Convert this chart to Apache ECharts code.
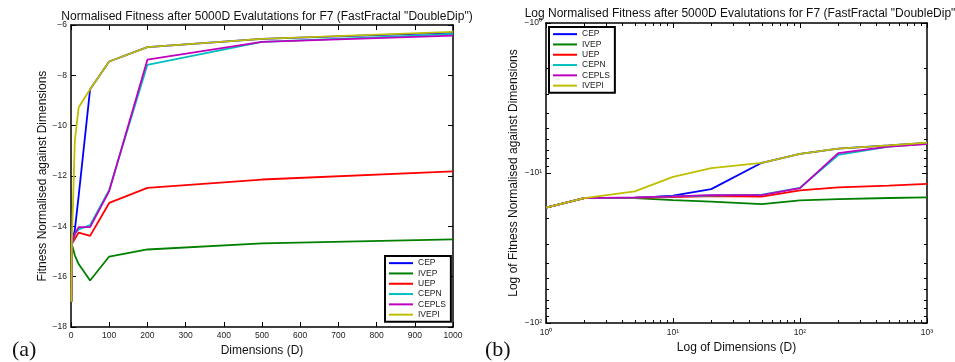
<!DOCTYPE html>
<html>
<head>
<meta charset="utf-8">
<script src="https://cdn.jsdelivr.net/npm/echarts@6/dist/echarts.min.js"></script>
<style>
  html, body { margin: 0; padding: 0; background: #fff; }
  #chartmain { width: 955px; height: 362px; }
</style>
</head>
<body>
<div id="chartmain"></div>
<script>
// dimensions tested
var dims = [1, 2, 5, 10, 20, 50, 100, 200, 500, 1000];
// normalised fitness per algorithm
var cep   = [-17, -14.7, -14.7, -14.15, -12.8, -8.55, -7.45, -6.88, -6.55, -6.3];
var ivep  = [-17, -14.7, -14.7, -15.15, -15.5, -16.15, -15.2, -14.92, -14.68, -14.52];
var uep   = [-17, -14.7, -14.65, -14.5, -14.25, -14.38, -13.07, -12.47, -12.14, -11.82];
var cepn  = [-17, -14.7, -14.6, -14.3, -14.12, -13.95, -12.55, -7.58, -6.67, -6.36];
var cepls = [-17, -14.7, -14.55, -14.3, -14.03, -14.03, -12.6, -7.38, -6.67, -6.42];
var ivepi = [-17, -14.7, -13.25, -10.6, -9.28, -8.55, -7.45, -6.88, -6.55, -6.27];

var names = ['CEP', 'IVEP', 'UEP', 'CEPN', 'CEPLS', 'IVEPI'];
var values = [cep, ivep, uep, cepn, cepls, ivepi];
var colors = ['#0000ff', '#008000', '#ff0000', '#00bfbf', '#bf00bf', '#bfbf00'];

// tick values
var linXTicks = [0, 1000, 100];
var linYTicks = [-18, -6, 2];
var logXMinor = [2, 3, 4, 5, 6, 7, 8, 9, 20, 30, 40, 50, 60, 70, 80, 90, 200, 300, 400, 500, 600, 700, 800, 900];
var logYMinor = [2, 3, 4, 5, 6, 7, 8, 9, 20, 30, 40, 50, 60, 70, 80, 90];
var sup = ['⁰', '¹', '²', '³'];

var font = 'Liberation Sans';
var lineAxis = { show: true, onZero: false, lineStyle: { color: '#000', width: 1.5 } };
var tick = { show: true, inside: true, length: 5, lineStyle: { color: '#000', width: 1 } };
var tickLabel = { fontFamily: font, fontSize: 8.5, color: '#222' };

function mirror(base, pos, idx) {
  return Object.assign({}, base, {
    position: pos, name: '', axisLabel: { show: false }, gridIndex: idx
  });
}

function minorAxis(base, pos, vals) {
  return {
    type: 'log', gridIndex: 1, position: pos, min: base.min, max: base.max, inverse: base.inverse,
    axisLine: { show: false }, axisLabel: { show: false }, splitLine: { show: false },
    axisTick: { show: true, inside: true, length: 3, customValues: vals, lineStyle: { color: '#000', width: 1 } }
  };
}

var xLin = {
  type: 'value', gridIndex: 0, position: 'bottom', min: linXTicks[0], max: linXTicks[1], interval: linXTicks[2],
  name: 'Dimensions (D)', nameLocation: 'middle', nameGap: 13,
  nameTextStyle: { fontFamily: font, fontSize: 12, color: '#111' },
  axisLine: lineAxis, axisTick: tick, splitLine: { show: false },
  axisLabel: Object.assign({ margin: 4, formatter: function (v) { return String(v); } }, tickLabel)
};
var yLin = {
  type: 'value', gridIndex: 0, position: 'left', min: linYTicks[0], max: linYTicks[1], interval: linYTicks[2],
  name: 'Fitness Normalised against Dimensions', nameLocation: 'middle', nameGap: 22,
  nameTextStyle: { fontFamily: font, fontSize: 12, color: '#111' },
  axisLine: lineAxis, axisTick: tick, splitLine: { show: false },
  axisLabel: Object.assign({ margin: 4, formatter: function (v) { return String(v).replace('-', '−'); } }, tickLabel)
};
var xLog = {
  type: 'log', logBase: 10, gridIndex: 1, position: 'bottom', min: 1, max: 1000,
  name: 'Log of Dimensions (D)', nameLocation: 'middle', nameGap: 17,
  nameTextStyle: { fontFamily: font, fontSize: 12, color: '#111' },
  axisLine: lineAxis, axisTick: tick, splitLine: { show: false },
  axisLabel: Object.assign({ margin: 5, formatter: function (v) { return '10' + sup[Math.round(Math.log10(v))]; } }, tickLabel)
};
var yLog = {
  type: 'log', logBase: 10, gridIndex: 1, position: 'left', min: 1, max: 100, inverse: true,
  name: 'Log of Fitness Normalised against Dimensions', nameLocation: 'middle', nameGap: 26,
  nameTextStyle: { fontFamily: font, fontSize: 12, color: '#111' },
  axisLine: lineAxis, axisTick: tick, splitLine: { show: false },
  axisLabel: Object.assign({ margin: 4, formatter: function (v) { return '−10' + sup[Math.round(Math.log10(v))]; } }, tickLabel)
};

var series = [];
names.forEach(function (n, k) {
  series.push({
    name: n, type: 'line', xAxisIndex: 0, yAxisIndex: 0, showSymbol: false, animation: false,
    lineStyle: { width: 1.8, color: colors[k] }, itemStyle: { color: colors[k] },
    data: dims.map(function (d, i) { return [d, values[k][i]]; })
  });
  series.push({
    name: n, type: 'line', xAxisIndex: 2, yAxisIndex: 2, showSymbol: false, animation: false,
    lineStyle: { width: 1.8, color: colors[k] }, itemStyle: { color: colors[k] },
    data: dims.map(function (d, i) { return [d, Math.abs(values[k][i])]; })
  });
});

var legendBase = {
  orient: 'vertical', data: names, icon: 'rect', itemWidth: 24, itemHeight: 2, itemGap: 0,
  backgroundColor: '#fff', borderColor: '#000', borderWidth: 2, borderRadius: 0, padding: [2, 5, 2, 4],
  textStyle: { fontFamily: font, fontSize: 8.5, color: '#222', lineHeight: 10.3 }
};

var option = {
  backgroundColor: '#fff',
  animation: false,
  title: [
    { text: 'Normalised Fitness after 5000D Evalutations for F7 (FastFractal "DoubleDip")', left: 262, top: 6, textAlign: 'center',
      textStyle: { fontFamily: font, fontSize: 12, fontWeight: 'normal', color: '#111' } },
    { text: 'Log Normalised Fitness after 5000D Evalutations for F7 (FastFractal "DoubleDip")', left: 737, top: 3, textAlign: 'center',
      textStyle: { fontFamily: font, fontSize: 12, fontWeight: 'normal', color: '#111' } },
    { text: '(a)', left: 7, top: 334, textStyle: { fontFamily: 'Liberation Serif', fontSize: 22, fontWeight: 'normal', color: '#111' } },
    { text: '(b)', left: 480, top: 334, textStyle: { fontFamily: 'Liberation Serif', fontSize: 22, fontWeight: 'normal', color: '#111' } }
  ],
  grid: [
    { left: 71, top: 25, width: 382, height: 302 },
    { left: 546, top: 23, width: 381, height: 300 }
  ],
  legend: [
    Object.assign({ left: 385, top: 256 }, legendBase),
    Object.assign({ left: 549, top: 27 }, legendBase)
  ],
  xAxis: [xLin, mirror(xLin, 'top', 0), xLog, mirror(xLog, 'top', 1),
          minorAxis(xLog, 'bottom', logXMinor), minorAxis(xLog, 'top', logXMinor)],
  yAxis: [yLin, mirror(yLin, 'right', 0), yLog, mirror(yLog, 'right', 1),
          minorAxis(yLog, 'left', logYMinor), minorAxis(yLog, 'right', logYMinor)],
  series: series
};

var chartmain = echarts.init(document.getElementById('chartmain'));
chartmain.setOption(option);
</script>
</body>
</html>
